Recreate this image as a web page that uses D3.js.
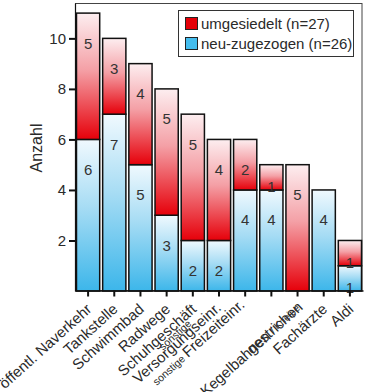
<!DOCTYPE html>
<html><head><meta charset="utf-8">
<script src="https://cdn.jsdelivr.net/npm/d3@7"></script>
<style>
body{margin:0;background:#fff}
svg{display:block}
text{font-family:Arial,"Liberation Sans",sans-serif;fill:#2a2a2a}
</style>
</head><body><svg id="c" width="365" height="392"></svg>
<script>
const categories = ["öffentl. Naverkehr","Tankstelle","Schwimmbad","Radwege","Schuhgeschäft","sonstige Versorgungseinr.","sonstige Freizeiteinr.","gestrichen","Kegelbahnen / Kneipe","Fachärzte","Aldi"];
const neuZugezogen = [6,7,5,3,2,2,4,4,0,4,1];
const umgesiedelt  = [5,3,4,5,5,4,2,1,5,0,1];
const seriesKeys = ["neu","umg"];
const legendLabels = ["umgesiedelt (n=27)","neu-zugezogen (n=26)"];
const yTicks = [2,4,6,8,10];
const yTitle = "Anzahl";

const svg = d3.select("#c");
const plot = {left:75, right:363, top:3, bottom:291};

const data = categories.map((c,i)=>({cat:c, neu:neuZugezogen[i], umg:umgesiedelt[i]}));

const x = d3.scaleBand().domain(categories).range([plot.left, plot.right]).paddingInner(0.113).paddingOuter(0.0565);
const y = d3.scaleLinear().domain([0, 11.4]).range([plot.bottom, plot.top]);

const defs = svg.append("defs");
const grads = {
  umg: [["0%","#fdeef0"],["45%","#f4a0a6"],["100%","#e6000a"]],
  neu: [["0%","#f0f9fe"],["45%","#a6dcf4"],["100%","#3cb6ea"]]
};
Object.entries(grads).forEach(([k,stops])=>{
  const g = defs.append("linearGradient").attr("id","g_"+k).attr("x1",0).attr("y1",0).attr("x2",0).attr("y2",1);
  stops.forEach(s=>g.append("stop").attr("offset",s[0]).attr("stop-color",s[1]));
});

// frame
svg.append("rect").attr("x",plot.left+0.5).attr("y",plot.top+0.5)
  .attr("width",plot.right-plot.left-1.5).attr("height",plot.bottom-plot.top-1)
  .attr("fill","none").attr("stroke","#444").attr("stroke-width",1);

const stack = d3.stack().keys(seriesKeys)(data);

const layers = svg.append("g").selectAll("g").data(stack).join("g")
  .attr("fill", d=>"url(#g_"+d.key+")");
layers.selectAll("rect").data(d=>d.filter(s=>s[1]-s[0]>0)).join("rect")
  .attr("x", d=>x(d.data.cat))
  .attr("width", x.bandwidth())
  .attr("y", d=>y(d[1]))
  .attr("height", d=>y(d[0])-y(d[1]))
  .attr("stroke","#111").attr("stroke-width",1.5);

// value labels
stack.forEach(layer=>{
  svg.append("g").selectAll("text").data(layer.filter(s=>s[1]-s[0]>0)).join("text")
    .attr("x", d=>x(d.data.cat)+x.bandwidth()/2)
    .attr("y", d=>{const h=y(d[0])-y(d[1]); return y(d[1])+Math.min(30,h-3.5);})
    .attr("text-anchor","middle").attr("dominant-baseline","central")
    .style("font-size","15px").style("fill","#333")
    .text(d=>d[1]-d[0]);
});

// y axis
const yAxis = svg.append("g").attr("transform",`translate(${plot.left},0)`)
  .call(d3.axisLeft(y).tickValues(yTicks).tickSize(6).tickSizeOuter(0).tickPadding(3));
yAxis.select(".domain").attr("stroke","#111").attr("stroke-width",1.2);
yAxis.selectAll(".tick line").attr("stroke","#111").attr("stroke-width",2);
yAxis.selectAll(".tick text").style("font-size","15px").style("font-family","Arial,'Liberation Sans',sans-serif").attr("fill","#2a2a2a");

svg.append("text").attr("transform",`translate(42,148) rotate(-90)`)
  .attr("text-anchor","middle").style("font-size","16px").text(yTitle);

// x axis
const xAxis = svg.append("g").attr("transform",`translate(0,${plot.bottom-0.5})`)
  .call(d3.axisBottom(x).tickSize(6).tickSizeOuter(0).tickFormat(""));
xAxis.select(".domain").attr("stroke","#111").attr("stroke-width",1.5);
xAxis.selectAll(".tick line").attr("stroke","#111").attr("stroke-width",2);

// category labels
const angle = -42;
const special = {5:{raised:true, dy:-2}, 6:{dy:-6}, 7:{dx:22, dy:17}};
categories.forEach((c,i)=>{
  const cx = x(c)+x.bandwidth()/2;
  const sp = special[i]||{};
  const g = svg.append("g").attr("transform",`translate(${cx+4.5},310.5) rotate(${angle})`);
  const bx = sp.dx||0, by = sp.dy||0;
  const t = g.append("text").attr("text-anchor","end")
    .attr("x", bx).attr("y", by)
    .style("font-size","15px");
  if (c.startsWith("sonstige ")) {
    const main = c.slice(9);
    if (sp.raised) {
      t.text(main);
      const L = t.node().getComputedTextLength();
      g.append("text").attr("text-anchor","middle")
        .attr("x", bx - L/2 + 4).attr("y", by - 8.5)
        .style("font-size","10.5px").text("sonstige");
    } else {
      t.append("tspan").style("font-size","10.5px").text("sonstige ");
      t.append("tspan").text(main);
    }
  } else if (c.includes(" / ")) {
    const parts = c.split(" / ");
    t.append("tspan").text(parts[0]+" ");
    t.append("tspan").style("font-size","10px").attr("dy",-2).text("/ "+parts[1]);
  } else {
    t.text(c);
  }
});

// legend
const lg = svg.append("g");
lg.append("rect").attr("x",178.5).attr("y",10.5).attr("width",175).attr("height",46)
  .attr("fill","#fff").attr("stroke","#333");
const swatch = {umg:"#e40008", neu:"#44bdee"};
["umg","neu"].forEach((k,i)=>{
  lg.append("rect").attr("x",185.5).attr("y",17.5+i*20).attr("width",12).attr("height",12)
    .attr("fill",swatch[k]).attr("stroke","#222");
  lg.append("text").attr("x",201).attr("y",23.5+i*20).attr("dominant-baseline","central")
    .style("font-size","15px").text(legendLabels[i]);
});
</script>
</body></html>
